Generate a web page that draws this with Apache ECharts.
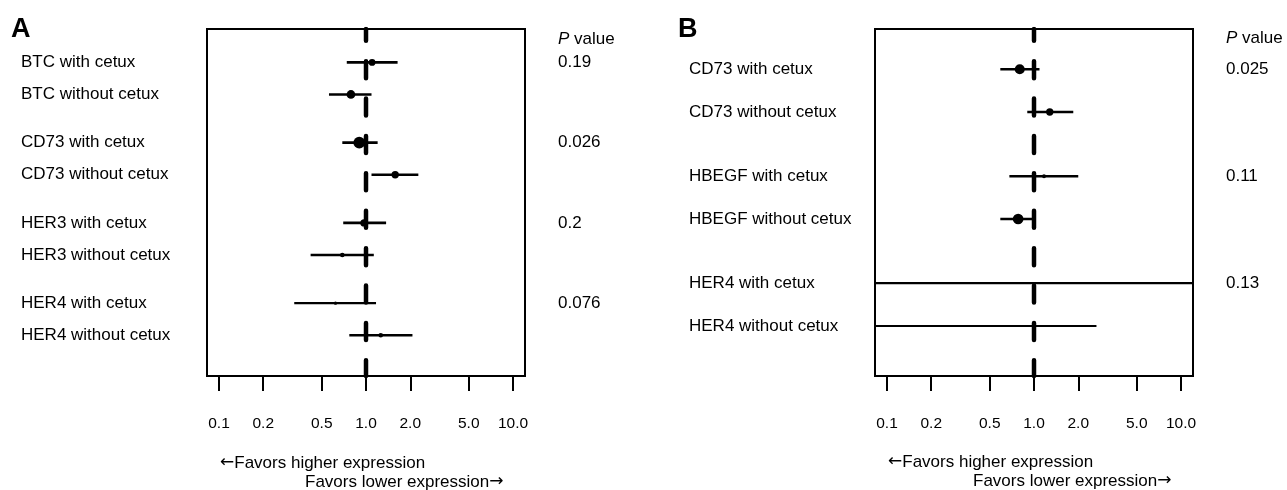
<!DOCTYPE html>
<html><head><meta charset="utf-8">
<script src="https://cdn.jsdelivr.net/npm/echarts@6/dist/echarts.min.js"></script>
<style>html,body{margin:0;padding:0;background:#fff}#c{width:1287px;height:490px}</style>
</head><body><div id="c"></div>
<script>
// ---- tick marks (hazard ratio, log scale) ----
const tickValues = [0.1, 0.2, 0.5, 1, 2, 5, 10];
const tickLabels = ['0.1', '0.2', '0.5', '1.0', '2.0', '5.0', '10.0'];
const conditions = ['with cetux', 'without cetux'];

// ---- Panel A ----
const genesA = ['BTC', 'CD73', 'HER3', 'HER4'];
const estA  = [1.10, 0.79, 0.90, 1.58, 0.97, 0.69, 0.62, 1.26];
const lowA  = [0.74, 0.56, 0.69, 1.09, 0.70, 0.42, 0.325, 0.77];
const highA = [1.64, 1.09, 1.20, 2.27, 1.37, 1.13, 1.17, 2.07];
const weightA = [0.56, 0.73, 0.98, 0.61, 0.62, 0.39, 0.28, 0.39];
const pValuesA = ['0.19', '0.026', '0.2', '0.076'];

// ---- Panel B ----
const genesB = ['CD73', 'HBEGF', 'HER4'];
const estB  = [0.80, 1.28, 1.17, 0.78, 1.00, 0.47];
const lowB  = [0.59, 0.90, 0.68, 0.59, 0.01, 0.01];
const highB = [1.09, 1.85, 2.00, 1.02, 100, 2.66];
const weightB = [0.84, 0.61, 0.33, 0.89, 0.0, 0.17];
const pValuesB = ['0.025', '0.11', '0.13'];

const FONT = "'Liberation Sans', Arial, Helvetica, sans-serif";
const ARROW_FONT = "'DejaVu Sans', sans-serif";
const GROUP_STEP = 2.5;
const MAX_DOT = 12;
const tickPos = tickValues.map(v => Math.log10(v));
function tickLabelFor(v) {
  let best = 0, bd = 1e9;
  tickPos.forEach((p, i) => { const d = Math.abs(p - v); if (d < bd) { bd = d; best = i; } });
  return tickLabels[best];
}

function buildPanel(genes, est, low, high, weight, pvals) {
  const data = [], rowPos = [], rowNames = [], pPos = [], pNames = [];
  genes.forEach((g, gi) => {
    conditions.forEach((c, ci) => {
      const i = gi * conditions.length + ci;
      const y = gi * GROUP_STEP + ci;
      data.push([Math.log10(est[i]), y, Math.log10(low[i]), Math.log10(high[i]), weight[i]]);
      rowPos.push(y); rowNames.push(g + ' ' + c);
    });
    pPos.push(gi * GROUP_STEP); pNames.push(pvals[gi]);
  });
  return { data, rowPos, rowNames, pPos, pNames };
}
const PA = buildPanel(genesA, estA, lowA, highA, weightA, pValuesA);
const PB = buildPanel(genesB, estB, lowB, highB, weightB, pValuesB);

const XMIN = -1.0816, XMAX = 1.0816;
const grids = [
  { left: 207, top: 29, width: 318, height: 347, show: true, borderColor: '#000', borderWidth: 2, backgroundColor: 'transparent' },
  { left: 875, top: 29, width: 318, height: 347, show: true, borderColor: '#000', borderWidth: 2, backgroundColor: 'transparent' }
];
const yRanges = [[-1.04, 9.77], [-0.94, 7.17]];
const panels = [PA, PB];

function xAxisFor(gi) {
  return {
    type: 'value', gridIndex: gi, min: XMIN, max: XMAX, position: 'bottom',
    axisLine: { show: false, onZero: false }, splitLine: { show: false },
    axisTick: { show: true, length: 15, lineStyle: { color: '#000', width: 2 }, customValues: tickPos },
    axisLabel: { customValues: tickPos, margin: 40, fontSize: 15.5, color: '#000', fontFamily: FONT,
      formatter: v => tickLabelFor(v) }
  };
}
function yAxesFor(gi) {
  const P = panels[gi];
  const base = { type: 'value', gridIndex: gi, inverse: true, min: yRanges[gi][0], max: yRanges[gi][1],
    axisLine: { show: false, onZero: false }, axisTick: { show: false }, splitLine: { show: false } };
  const nameAt = (pos, names) => v => { let b = 0, bd = 1e9; pos.forEach((p, i) => { const d = Math.abs(p - v); if (d < bd) { bd = d; b = i; } }); return names[b]; };
  return [
    Object.assign({}, base, { position: 'left',
      axisLabel: { customValues: P.rowPos, formatter: nameAt(P.rowPos, P.rowNames), align: 'left', margin: 186,
        fontSize: 17, color: '#000', fontFamily: FONT } }),
    Object.assign({}, base, { position: 'right',
      axisLabel: { customValues: P.pPos, formatter: nameAt(P.pPos, P.pNames), align: 'left', margin: 33,
        fontSize: 17, color: '#000', fontFamily: FONT } })
  ];
}

function renderItem(params, api) {
  const y = api.value(1);
  const pc = api.coord([api.value(0), y]);
  const p0 = api.coord([api.value(2), y]);
  const p1 = api.coord([api.value(3), y]);
  const w = api.value(4);
  const r = w * MAX_DOT / 2;
  const children = [
    { type: 'line', shape: { x1: p0[0], y1: p0[1], x2: p1[0], y2: p1[1] },
      style: { stroke: '#000', lineWidth: w < 0.3 ? 2.1 : 2.6 } }
  ];
  if (r > 0) children.push({ type: 'circle', shape: { cx: pc[0], cy: pc[1], r: r }, style: { fill: '#000' } });
  return { type: 'group', children };
}

const series = [];
[0, 1].forEach(gi => {
  series.push({
    type: 'line', xAxisIndex: gi, yAxisIndex: gi * 2, silent: true, symbol: 'none', z: 2,
    data: [[0, yRanges[gi][0]], [0, yRanges[gi][1]]],
    lineStyle: { color: '#000', width: 4.5, type: [17, 20.4], dashOffset: 5.25, cap: 'round' }
  });
  series.push({
    type: 'custom', xAxisIndex: gi, yAxisIndex: gi * 2, clip: true, z: 3, silent: true,
    renderItem, encode: { x: 0, y: 1 }, data: panels[gi].data
  });
});

const arrowRich = { a: { fontFamily: ARROW_FONT, fontSize: 17, fill: '#000' } };
function txt(x, y, text, extra) {
  return { type: 'text', x, y, silent: true,
    style: Object.assign({ text, fill: '#000', fontSize: 17, fontFamily: FONT, align: 'left', verticalAlign: 'middle' }, extra || {}) };
}

const option = {
  animation: false,
  backgroundColor: '#fff',
  grid: grids,
  xAxis: [xAxisFor(0), xAxisFor(1)],
  yAxis: [...yAxesFor(0), ...yAxesFor(1)],
  series,
  graphic: [
    txt(11, 30, 'A', { fontSize: 27, fontWeight: 'bold' }),
    txt(678, 30, 'B', { fontSize: 27, fontWeight: 'bold' }),
    txt(558, 39, '{i|P} value', { rich: { i: { fontStyle: 'italic', fontSize: 17, fontFamily: FONT } } }),
    txt(1226, 38, '{i|P} value', { rich: { i: { fontStyle: 'italic', fontSize: 17, fontFamily: FONT } } }),
    txt(220, 463, '{a|\u2190}Favors higher expression', { rich: arrowRich }),
    txt(305, 482, 'Favors lower expression{a|\u2192}', { rich: arrowRich }),
    txt(888, 462, '{a|\u2190}Favors higher expression', { rich: arrowRich }),
    txt(973, 481, 'Favors lower expression{a|\u2192}', { rich: arrowRich })
  ]
};
echarts.init(document.getElementById('c'), null, { renderer: 'canvas' }).setOption(option);
</script></body></html>
